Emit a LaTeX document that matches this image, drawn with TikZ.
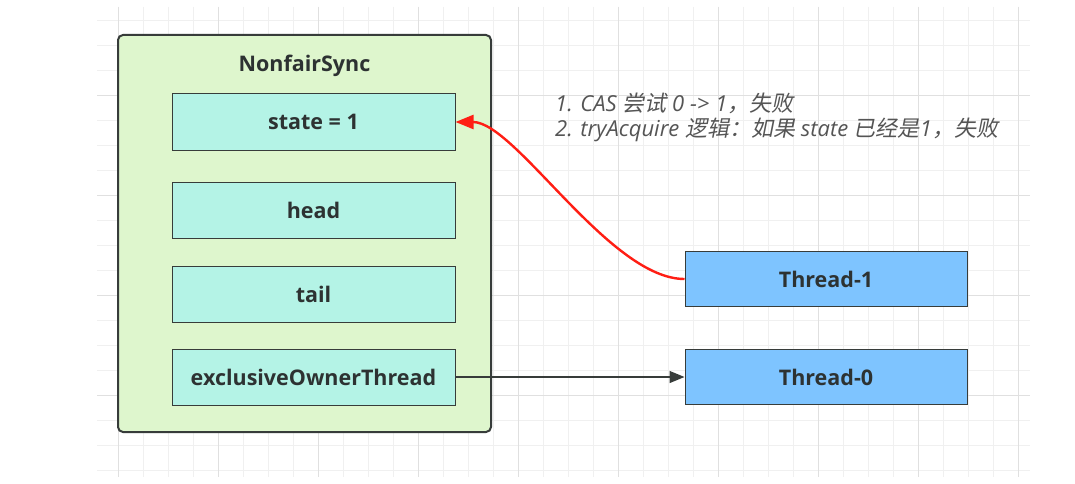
\documentclass[tikz,border=0pt]{standalone}
\usepackage{fontspec}
\setmainfont{Open Sans}
\newfontfamily\cjk{Noto Sans CJK SC}[AutoFakeSlant=0.2]
\usetikzlibrary{positioning, arrows.meta}
\definecolor{syncfill}{RGB}{222,246,205}
\definecolor{fieldfill}{RGB}{180,243,230}
\definecolor{threadfill}{RGB}{126,196,255}
\definecolor{boxline}{RGB}{55,60,58}
\definecolor{textdark}{RGB}{45,50,50}
\definecolor{notegray}{RGB}{85,85,85}
\definecolor{redline}{RGB}{255,30,20}
\tikzset{gridminor/.style={draw=black!6, line width=0.6pt}}
\tikzset{gridmajor/.style={draw=black!12, line width=0.8pt}}
\tikzset{syncbox/.style={draw=boxline, fill=syncfill, line width=2pt, rounded corners=5pt, minimum width=373pt, minimum height=397pt}}
\tikzset{boxtext/.style={font=\fontsize{21.5}{24}\selectfont\bfseries, text=textdark}}
\tikzset{field/.style={boxtext, draw=boxline, fill=fieldfill, line width=1pt, minimum width=283pt, minimum height=56pt}}
\tikzset{thread/.style={boxtext, draw=boxline, fill=threadfill, line width=1pt, minimum width=282pt, minimum height=55pt}}
\tikzset{arr/.style={draw=boxline, line width=1.3pt, -{Triangle[length=15pt, width=12pt]}}}
\tikzset{redarr/.style={draw=redline, line width=2.4pt, -{Triangle[length=18pt, width=14pt]}}}
\tikzset{note/.style={font=\fontsize{22}{26}\selectfont\itshape, text=notegray, anchor=west, inner sep=0pt}}

\begin{document}
\begin{tikzpicture}[x=1pt, y=-1pt]
    \useasboundingbox[fill=white] (0,0) rectangle (1075,484);
    % background grid
    \foreach \gx in {0,...,36}
        \draw[gridminor] ({118+25*\gx},7) -- ({118+25*\gx},477);
    \foreach \gy in {0,...,18}
        \draw[gridminor] (97,{20+25*\gy}) -- (1030,{20+25*\gy});
    \foreach \gx in {0,...,9}
        \draw[gridmajor] ({118+100*\gx},7) -- ({118+100*\gx},477);
    \foreach \gy in {0,...,3}
        \draw[gridmajor] (97,{95+100*\gy}) -- (1030,{95+100*\gy});

    \node[syncbox] (sync) at (304.5,233.5) {};
    \node[boxtext] (title) at ([yshift=-32pt]sync.north) {NonfairSync};
    \node[field] (state) at (313.5,122) {state = 1};
    \node[field, below=31pt of state] (head) {head};
    \node[field, below=27pt of head] (tail) {tail};
    \node[field, below=26pt of tail] (owner) {exclusiveOwnerThread};

    \node[thread, right=229pt of owner] (thread0) {Thread-0};
    \node[thread, above=42pt of thread0] (thread1) {Thread-1};

    \draw[arr] (owner) -- (thread0);
    \draw[redarr] (thread1.west) .. controls +(-75,0) and +(60,0) .. (state.east);

    \node[note] (cas) at (555,103) {1. CAS {\cjk 尝试} 0 -> 1{\cjk ，失败}};
    \node[note] (try) at (555,130)
        {2. tryAcquire {\cjk 逻辑：如果} state {\cjk 已经是}1{\cjk ，失败}};
\end{tikzpicture}
\end{document}
